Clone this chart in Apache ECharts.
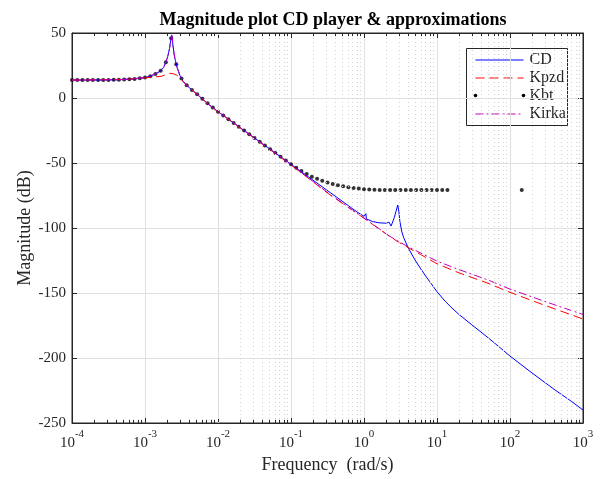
<!DOCTYPE html>
<html>
<head>
<meta charset="utf-8">
<script src="https://cdn.jsdelivr.net/npm/echarts@6/dist/echarts.min.js"></script>
<style>
  html, body {margin: 0; padding: 0; background: #fff;}
  #chart {width: 603px; height: 479px;}
</style>
</head>
<body>
<div id="chart"></div>
<script>
// CD player (blue)
var cdFreq = [1e-4, 2e-4, 3e-4, 4e-4, 5e-4, 6e-4, 7e-4, 8e-4, 9e-4, 1e-3, 1.2e-3, 1.4e-3, 1.6e-3, 1.8e-3,
  1.95e-3, 2.05e-3, 2.15e-3, 2.22e-3, 2.28e-3, 2.32e-3, 2.36e-3, 2.42e-3, 2.5e-3, 2.6e-3, 2.75e-3, 3e-3,
  3.3e-3, 3.9e-3, 5e-3, 6e-3, 7.4e-3, 7.8e-3, 8.2e-3, 1e-2, 2e-2, 5e-2, 0.1, 0.2, 0.5, 0.8, 1.0, 1.03,
  1.06, 1.08, 1.1, 1.15, 1.3, 1.6, 2.0, 2.2, 2.27, 2.35, 2.45, 2.6, 2.75, 2.9, 3.0, 3.1, 3.3, 3.5, 4.06,
  5, 6, 7, 8, 10, 13, 16, 20, 30, 40, 60, 100, 200, 400, 700, 1000];
var cdMag = [13.8, 13.8, 13.9, 14.0, 14.2, 14.4, 14.7, 15.0, 15.4, 15.7, 16.9, 18.5, 20.5, 23.5,
  28, 32, 37, 42, 46, 48.5, 46, 40, 34, 29, 23.5, 17.5,
  13, 8.7, 3.5, -0.3, -4.9, -5.5, -6.7, -10.5, -22.7, -38.8, -51, -63.2, -79.3, -87.6, -91, -90.5,
  -89, -93, -91.5, -93.5, -95, -96, -96.3, -95.5, -94.4, -98.5, -97, -92, -87, -82.3, -87, -95, -103, -107.5, -115.6,
  -124.6, -131.5, -137, -141.5, -149, -156.5, -161.5, -166.5, -174.5, -180, -188, -198.5, -211.5, -224, -233.5, -240];

// Kpzd (red dashed)
var kpzdFreq = [1e-4, 5e-4, 1e-3, 1.4e-3, 1.7e-3, 2.0e-3, 2.2e-3, 2.45e-3, 2.7e-3, 3e-3, 3.3e-3, 3.9e-3,
  5e-3, 6e-3, 7.4e-3, 1e-2, 0.1, 0.34, 1, 1.5, 2.27, 3, 4, 6, 10, 20, 50, 100, 300, 1000];
var kpzdMag = [13.8, 14.2, 15.5, 16.2, 16.8, 18.3, 19, 18.6, 17.6, 16, 13, 8.7,
  3.5, -0.3, -4.9, -10.5, -51.5, -74.4, -92.5, -99.5, -106.7, -111, -115, -120.5, -127.5, -134.5, -142.5, -149.5, -159.5, -170];

// Kbt (black dots)
var kbtFreq = [
  1e-4, 1.18e-4, 1.39e-4, 1.64e-4, 1.93e-4, 2.28e-4, 2.68e-4, 3.16e-4, 3.73e-4, 4.39e-4, 5.18e-4, 6.11e-4, 7.20e-4, 8.48e-4,
  1e-3, 1.18e-3, 1.39e-3, 1.64e-3, 1.93e-3, 2.28e-3, 2.68e-3, 3.16e-3, 3.73e-3, 4.39e-3, 5.18e-3, 6.11e-3, 7.20e-3, 8.48e-3,
  1e-2, 1.18e-2, 1.39e-2, 1.64e-2, 1.93e-2, 2.28e-2, 2.68e-2, 3.16e-2, 3.73e-2, 4.39e-2, 5.18e-2, 6.11e-2, 7.20e-2, 8.48e-2,
  0.1, 0.118, 0.139, 0.164, 0.193, 0.228, 0.268, 0.316, 0.373, 0.439, 0.518, 0.611, 0.720, 0.848,
  1, 1.18, 1.39, 1.64, 1.93, 2.28, 2.68, 3.16, 3.73, 4.39, 5.18, 6.11, 7.20, 8.48,
  10, 11.8, 13.9, 145];
var kbtMag = [
  13.8, 13.8, 13.8, 13.8, 13.8, 13.9, 13.9, 13.9, 14.0, 14.1, 14.2, 14.4, 14.7, 15.1,
  15.7, 16.8, 18.4, 21.0, 27.5, 46.0, 26.0, 15.0, 9.8, 6.2, 2.9, -0.5, -4.0, -7.3,
  -10.5, -13.4, -16.3, -19.2, -22.1, -25.0, -27.9, -30.8, -33.6, -36.5, -39.4, -42.3, -45.2, -48.0,
  -51.0, -53.6, -56.2, -58.5, -60.5, -62.2, -63.7, -65.0, -66.1, -67.1, -67.9, -68.6, -69.2, -69.7,
  -70.1, -70.4, -70.6, -70.7, -70.8, -70.8, -70.8, -70.8, -70.8, -70.8, -70.8, -70.8, -70.8, -70.8,
  -70.8, -70.8, -70.8, -70.8];

// Kirka (magenta dash-dot)
var kirkaFreq = [1e-4, 5e-4, 1e-3, 1.4e-3, 1.8e-3, 2.05e-3, 2.15e-3, 2.22e-3, 2.28e-3, 2.32e-3, 2.36e-3,
  2.42e-3, 2.5e-3, 2.6e-3, 2.75e-3, 3e-3, 3.3e-3, 3.9e-3, 5e-3, 6e-3, 7.4e-3, 1e-2, 0.1, 0.34, 1, 2.27,
  3, 4, 6, 10, 20, 50, 100, 300, 1000];
var kirkaMag = [13.8, 14.2, 15.7, 18.5, 23.5, 32, 37, 42, 46, 48.5, 46,
  40, 34, 29, 23.5, 17.5, 13, 8.7, 3.5, -0.3, -4.9, -10.5, -51.3, -74, -92.3, -106.5,
  -110.5, -114.3, -119.3, -125.5, -132, -140, -147, -156.5, -166.5];

function pairs(xs, ys) {
  return xs.map(function (x, i) { return [x, ys[i]]; });
}

var serif = '"Liberation Serif", "DejaVu Serif", serif';
var axisColor = '#262626';

// minor decade lines (2..9) for the log axis
var minorGrid = [];
var minorTicks = [];
for (var d = -4; d < 3; d++) {
  for (var k = 2; k <= 9; k++) {
    var f = k * Math.pow(10, d);
    minorGrid.push({xAxis: f});
    minorTicks.push([{coord: [f, -250]}, {coord: [f, -247.6]}]);
    minorTicks.push([{coord: [f, 50]}, {coord: [f, 47.6]}]);
  }
}

var chart = echarts.init(document.getElementById('chart'));
chart.setOption({
  animation: false,
  backgroundColor: '#fff',
  title: {
    text: 'Magnitude plot CD player & approximations',
    left: 328, top: 6, textAlign: 'center',
    textStyle: {fontFamily: serif, fontSize: 18, fontWeight: 'bold', color: '#000'}
  },
  grid: {left: 72, top: 33, width: 511, height: 390, show: true, borderColor: axisColor, borderWidth: 1, backgroundColor: '#fff'},
  xAxis: [{
    type: 'log', logBase: 10, min: 1e-4, max: 1e3,
    name: 'Frequency  (rad/s)', nameLocation: 'middle', nameGap: 31,
    nameTextStyle: {fontFamily: serif, fontSize: 18, color: axisColor},
    axisLine: {show: true, onZero: false, lineStyle: {color: axisColor}},
    axisTick: {show: true, inside: true, length: 5, lineStyle: {color: axisColor}},
    axisLabel: {
      margin: 6,
      formatter: function (v) {
        var e = Math.round(Math.log10(v));
        return '{b|10}{s|' + e + '}';
      },
      rich: {
        b: {fontFamily: serif, fontSize: 15, color: axisColor, lineHeight: 22, verticalAlign: 'bottom'},
        s: {fontFamily: serif, fontSize: 11, color: axisColor, lineHeight: 11, verticalAlign: 'top'}
      }
    },
    splitLine: {show: true, lineStyle: {color: '#e0e0e0', width: 1}}
  }, {
    type: 'log', logBase: 10, min: 1e-4, max: 1e3, position: 'top',
    axisLine: {show: true, onZero: false, lineStyle: {color: axisColor}},
    axisTick: {show: true, inside: true, length: 5, lineStyle: {color: axisColor}},
    axisLabel: {show: false}, splitLine: {show: false}
  }],
  yAxis: [{
    type: 'value', min: -250, max: 50, interval: 50,
    name: 'Magnitude (dB)', nameLocation: 'middle', nameGap: 38, nameMoveOverlap: false,
    nameTextStyle: {fontFamily: serif, fontSize: 18, color: axisColor},
    axisLine: {show: true, onZero: false, lineStyle: {color: axisColor}},
    axisTick: {show: true, inside: true, length: 5, lineStyle: {color: axisColor}},
    axisLabel: {fontFamily: serif, fontSize: 15, color: axisColor, margin: 6},
    splitLine: {show: true, lineStyle: {color: '#e0e0e0', width: 1}}
  }, {
    type: 'value', min: -250, max: 50, interval: 50, position: 'right',
    axisLine: {show: true, onZero: false, lineStyle: {color: axisColor}},
    axisTick: {show: true, inside: true, length: 5, lineStyle: {color: axisColor}},
    axisLabel: {show: false}, splitLine: {show: false}
  }],
  series: [{
    name: 'grid-minor', type: 'line', data: [], silent: true,
    markLine: {
      silent: true, symbol: 'none', animation: false,
      label: {show: false},
      lineStyle: {color: '#d2d2d2', width: 1, type: [1, 3]},
      data: minorGrid
    }
  }, {
    name: 'tick-minor', type: 'line', data: [], silent: true,
    markLine: {
      silent: true, symbol: 'none', animation: false,
      label: {show: false},
      lineStyle: {color: axisColor, width: 1, type: 'solid'},
      data: minorTicks
    }
  }, {
    name: 'CD', type: 'line', data: pairs(cdFreq, cdMag),
    showSymbol: false, smooth: false,
    lineStyle: {color: '#0000ff', width: 1}
  }, {
    name: 'Kpzd', type: 'line', data: pairs(kpzdFreq, kpzdMag),
    showSymbol: false,
    lineStyle: {color: '#ff0000', width: 1, type: [9, 5]}
  }, {
    name: 'Kbt', type: 'scatter', data: pairs(kbtFreq, kbtMag),
    symbol: 'circle', symbolSize: 4,
    itemStyle: {color: '#000'}
  }, {
    name: 'Kirka', type: 'line', data: pairs(kirkaFreq, kirkaMag),
    showSymbol: false,
    lineStyle: {color: '#bf00bf', width: 1, type: [8, 3, 2, 3]}
  }],
  graphic: [{
    type: 'group', left: 466, top: 48, z: 100,
    children: [
      {type: 'rect', shape: {x: 0, y: 0, width: 101, height: 77}, style: {fill: '#fff', stroke: axisColor, lineWidth: 1}},
      {type: 'line', shape: {x1: 9, y1: 11.5, x2: 57, y2: 11.5}, style: {stroke: '#0000ff', lineWidth: 1}},
      {type: 'text', x: 63, y: 11.5, style: {text: 'CD', font: '16px ' + serif, fill: axisColor, verticalAlign: 'middle'}},
      {type: 'line', shape: {x1: 9, y1: 29.5, x2: 57, y2: 29.5}, style: {stroke: '#ff0000', lineWidth: 1, lineDash: [9, 5]}},
      {type: 'text', x: 63, y: 29.5, style: {text: 'Kpzd', font: '16px ' + serif, fill: axisColor, verticalAlign: 'middle'}},
      {type: 'circle', shape: {cx: 9, cy: 47, r: 1.8}, style: {fill: '#000'}},
      {type: 'circle', shape: {cx: 57, cy: 47, r: 1.8}, style: {fill: '#000'}},
      {type: 'text', x: 63, y: 47, style: {text: 'Kbt', font: '16px ' + serif, fill: axisColor, verticalAlign: 'middle'}},
      {type: 'line', shape: {x1: 9, y1: 65.5, x2: 57, y2: 65.5}, style: {stroke: '#bf00bf', lineWidth: 1, lineDash: [8, 3, 2, 3]}},
      {type: 'text', x: 63, y: 65.5, style: {text: 'Kirka', font: '16px ' + serif, fill: axisColor, verticalAlign: 'middle'}}
    ]
  }]
});
</script>
</body>
</html>
